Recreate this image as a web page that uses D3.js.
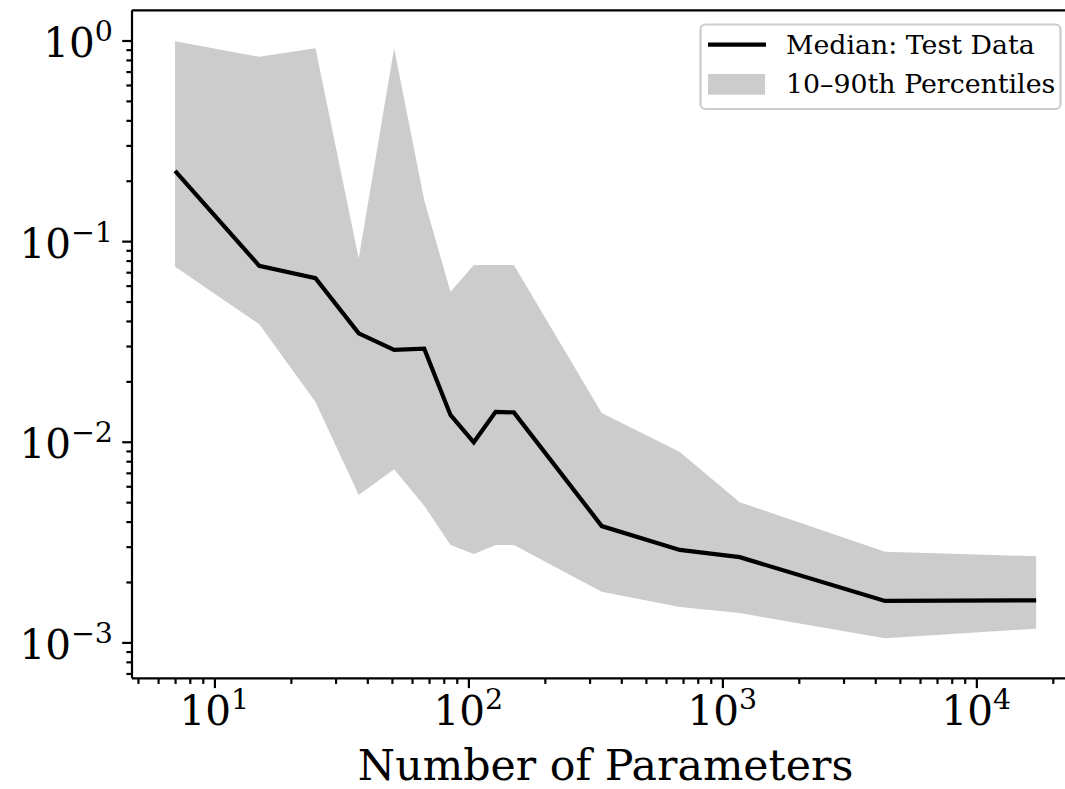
<!DOCTYPE html>
<html>
<head>
<meta charset="utf-8">
<script src="https://cdn.jsdelivr.net/npm/d3@7"></script>
<style>
  html, body { margin: 0; padding: 0; background: #fff; }
  svg { display: block; }
  text { font-family: "DejaVu Serif", serif; fill: #000; }
</style>
</head>
<body>
<svg id="chart" width="1065" height="789"></svg>
<script>
// ---- data ----
const params = [7, 15, 25, 37, 51, 67, 85, 105, 128, 151, 335, 680, 1170, 4370, 17200];
const median = [0.224, 0.0754, 0.0653, 0.0347, 0.0287, 0.0291, 0.0136, 0.00994, 0.0141, 0.0140, 0.0038, 0.00289, 0.00266, 0.00161, 0.00162];
const upper  = [0.99, 0.83, 0.915, 0.082, 0.915, 0.16, 0.056, 0.076, 0.076, 0.076, 0.0139, 0.0089, 0.0050, 0.00283, 0.00269];
const lower  = [0.0745, 0.0386, 0.0158, 0.00542, 0.00729, 0.0048, 0.00306, 0.00276, 0.00306, 0.00306, 0.00179, 0.0015, 0.0014, 0.00105, 0.00117];
const xTickExps = [1, 2, 3, 4];
const yTickExps = [0, -1, -2, -3];
const xLabel = "Number of Parameters";
const legendLabels = ["Median: Test Data", "10\u201390th Percentiles"];

// ---- layout ----
const svg = d3.select("#chart");
const L = 132, R = 1079.2, T = 10.3, B = 678.3;
const x = d3.scaleLog().domain([Math.pow(10, 0.6755), Math.pow(10, 4.405)]).range([L, R]);
const y = d3.scaleLog().domain([Math.pow(10, 0.1505), Math.pow(10, -3.179)]).range([T, B]);

const rows = params.map((p, i) => ({p, m: median[i], lo: lower[i], hi: upper[i]}));

// band
svg.append("path")
  .datum(rows)
  .attr("fill", "#cccccc")
  .attr("stroke", "none")
  .attr("d", d3.area().x(d => x(d.p)).y0(d => y(d.lo)).y1(d => y(d.hi)));

// median
svg.append("path")
  .datum(rows)
  .attr("fill", "none")
  .attr("stroke", "#000")
  .attr("stroke-width", 4.2)
  .attr("stroke-linejoin", "miter")
  .attr("d", d3.line().x(d => x(d.p)).y(d => y(d.m)));

// spines
const spineW = 2.2;
svg.append("line").attr("x1", L).attr("x2", R).attr("y1", T).attr("y2", T).attr("stroke", "#000").attr("stroke-width", spineW);
svg.append("line").attr("x1", L).attr("x2", R).attr("y1", B).attr("y2", B).attr("stroke", "#000").attr("stroke-width", spineW);
svg.append("line").attr("x1", L).attr("x2", L).attr("y1", T).attr("y2", B).attr("stroke", "#000").attr("stroke-width", spineW);
svg.append("line").attr("x1", R).attr("x2", R).attr("y1", T).attr("y2", B).attr("stroke", "#000").attr("stroke-width", spineW);

// x axis ticks
const xMinor = [];
for (let e = 0; e <= 4; e++) for (let k = 2; k <= 9; k++) {
  const v = k * Math.pow(10, e);
  if (v >= x.domain()[0] && v <= x.domain()[1]) xMinor.push(v);
}
const xAxisMinor = d3.axisBottom(x).tickValues(xMinor).tickSize(5.6).tickFormat("");
const xAxisMajor = d3.axisBottom(x).tickValues(xTickExps.map(e => Math.pow(10, e))).tickSize(9.8).tickFormat("");
[xAxisMinor, xAxisMajor].forEach(ax => {
  const g = svg.append("g").attr("transform", `translate(0,${B})`).call(ax);
  g.select(".domain").remove();
  g.selectAll(".tick line").attr("stroke", "#000").attr("stroke-width", spineW);
});

// y axis ticks
const yMinor = [];
for (let e = -4; e <= 0; e++) for (let k = 2; k <= 9; k++) {
  const v = k * Math.pow(10, e);
  if (v >= y.domain()[1] && v <= y.domain()[0]) yMinor.push(v);
}
const yAxisMinor = d3.axisLeft(y).tickValues(yMinor).tickSize(5.6).tickFormat("");
const yAxisMajor = d3.axisLeft(y).tickValues(yTickExps.map(e => Math.pow(10, e))).tickSize(9.8).tickFormat("");
[yAxisMinor, yAxisMajor].forEach(ax => {
  const g = svg.append("g").attr("transform", `translate(${L},0)`).call(ax);
  g.select(".domain").remove();
  g.selectAll(".tick line").attr("stroke", "#000").attr("stroke-width", spineW);
});

// tick labels (mathtext style 10^e)
const tickFont = 40.5, supFont = 28.5;
function expText(e) { return e < 0 ? "\u2212" + Math.abs(e) : String(e); }

xTickExps.forEach(e => {
  const t = svg.append("text")
    .attr("x", x(Math.pow(10, e)))
    .attr("y", 725)
    .attr("text-anchor", "middle")
    .style("font-size", tickFont + "px");
  t.append("tspan").text("10");
  t.append("tspan").attr("dy", -16).style("font-size", supFont + "px").text(expText(e));
});

yTickExps.forEach(e => {
  const t = svg.append("text")
    .attr("x", 113)
    .attr("y", y(Math.pow(10, e)) + 16.5)
    .attr("text-anchor", "end")
    .style("font-size", tickFont + "px");
  t.append("tspan").text("10");
  t.append("tspan").attr("dy", -16).style("font-size", supFont + "px").text(expText(e));
});

// x label
svg.append("text")
  .attr("x", (L + R) / 2)
  .attr("y", 780)
  .attr("text-anchor", "middle")
  .style("font-size", "42.7px")
  .text(xLabel);

// legend
const lg = svg.append("g");
lg.append("rect")
  .attr("x", 700.5).attr("y", 24.5).attr("width", 360).attr("height", 84.5)
  .attr("rx", 5).attr("ry", 5)
  .attr("fill", "#fff").attr("fill-opacity", 0.8)
  .attr("stroke", "#cccccc").attr("stroke-width", 2.2);
lg.append("line").attr("x1", 708).attr("x2", 766).attr("y1", 44.7).attr("y2", 44.7)
  .attr("stroke", "#000").attr("stroke-width", 4.2);
lg.append("rect").attr("x", 708).attr("y", 74).attr("width", 57).attr("height", 20.7)
  .attr("fill", "#cccccc");
lg.append("text").attr("x", 786).attr("y", 54).style("font-size", "26.8px").text(legendLabels[0]);
lg.append("text").attr("x", 786).attr("y", 93).style("font-size", "26.8px").text(legendLabels[1]);
</script>
</body>
</html>
